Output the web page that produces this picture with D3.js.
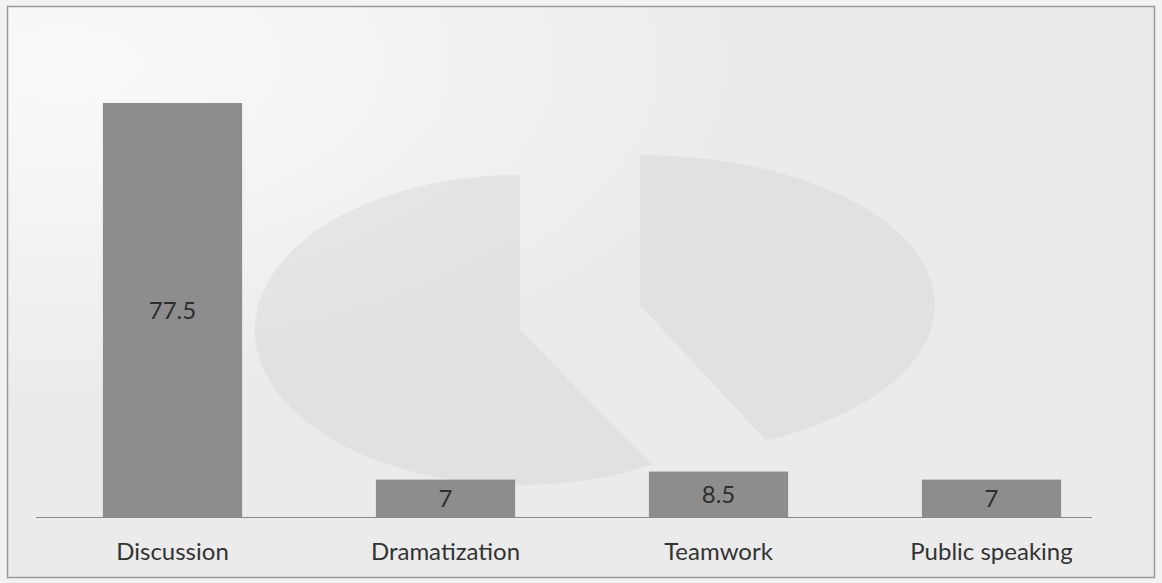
<!DOCTYPE html>
<html>
<head>
<meta charset="utf-8">
<script src="https://cdn.jsdelivr.net/npm/d3@7"></script>
<style>
  body { margin: 0; background: #f2f2f2; }
  svg { display: block; }
</style>
</head>
<body>
<div id="chart"></div>
<script>
// data
var categories = ["Discussion", "Dramatization", "Teamwork", "Public speaking"];
var values = [77.5, 7, 8.5, 7];

var W = 1162, H = 583;
var baseY = 517;

var svg = d3.select("#chart")
  .append("svg")
    .attr("width", W)
    .attr("height", H);

var defs = svg.append("defs");
var grad = defs.append("radialGradient")
  .attr("id", "bg")
  .attr("cx", "0.05").attr("cy", "0.1").attr("r", "0.6");
grad.append("stop").attr("offset", "0%").attr("stop-color", "#fafafa");
grad.append("stop").attr("offset", "100%").attr("stop-color", "#ebebeb");

// frame
svg.append("rect")
  .attr("x", 7.5).attr("y", 6.5)
  .attr("width", 1147).attr("height", 571)
  .attr("fill", "url(#bg)")
  .attr("stroke", "#9a9a9a")
  .attr("stroke-width", 1.5);

// faint watermark (exploded pie) in the background
var wm = svg.append("g").attr("opacity", 0.28);
wm.append("g")
  .attr("transform", "translate(520,330) scale(265,155)")
  .append("path")
    .attr("d", d3.arc()({innerRadius: 0, outerRadius: 1, startAngle: 2.62, endAngle: 2 * Math.PI}))
    .attr("fill", "#c8c8c8");
wm.append("g")
  .attr("transform", "translate(640,305) scale(295,150)")
  .append("path")
    .attr("d", d3.arc()({innerRadius: 0, outerRadius: 1, startAngle: 0, endAngle: 2.7}))
    .attr("fill", "#c8c8c8");

var x = d3.scaleBand()
  .domain(categories)
  .range([36, 1128])
  .paddingInner(0.49)
  .paddingOuter(0.245);

var y = d3.scaleLinear()
  .domain([0, 77.5])
  .range([baseY, 103]);

// bars
svg.selectAll(".bar")
  .data(values)
  .enter().append("rect")
    .attr("class", "bar")
    .attr("x", function(d, i) { return x(categories[i]); })
    .attr("y", function(d) { return y(d); })
    .attr("width", x.bandwidth())
    .attr("height", function(d) { return baseY - y(d); })
    .attr("fill", "#8d8d8d");

// baseline
svg.append("line")
  .attr("x1", 36).attr("x2", 1092)
  .attr("y1", baseY + 0.5).attr("y2", baseY + 0.5)
  .attr("stroke", "#8a8a8a")
  .attr("stroke-width", 1);

// value labels
svg.selectAll(".val")
  .data(values)
  .enter().append("text")
    .attr("class", "val")
    .attr("x", function(d, i) { return x(categories[i]) + x.bandwidth() / 2; })
    .attr("y", function(d) { return (y(d) + baseY) / 2; })
    .attr("dy", "0.36em")
    .attr("text-anchor", "middle")
    .attr("font-family", "Lato, 'Open Sans', sans-serif")
    .attr("font-size", 24)
    .attr("fill", "#2e2e2e")
    .text(function(d) { return d; });

// category labels
var xAxis = d3.axisBottom(x).tickSize(0).tickPadding(0);
var ax = svg.append("g")
  .attr("transform", "translate(0," + (baseY + 43) + ")")
  .call(xAxis);
ax.select(".domain").remove();
ax.selectAll("text")
  .attr("dy", 0)
  .attr("font-family", "Lato, 'Open Sans', sans-serif")
  .attr("font-size", 24)
  .attr("fill", "#333");
</script>
</body>
</html>
